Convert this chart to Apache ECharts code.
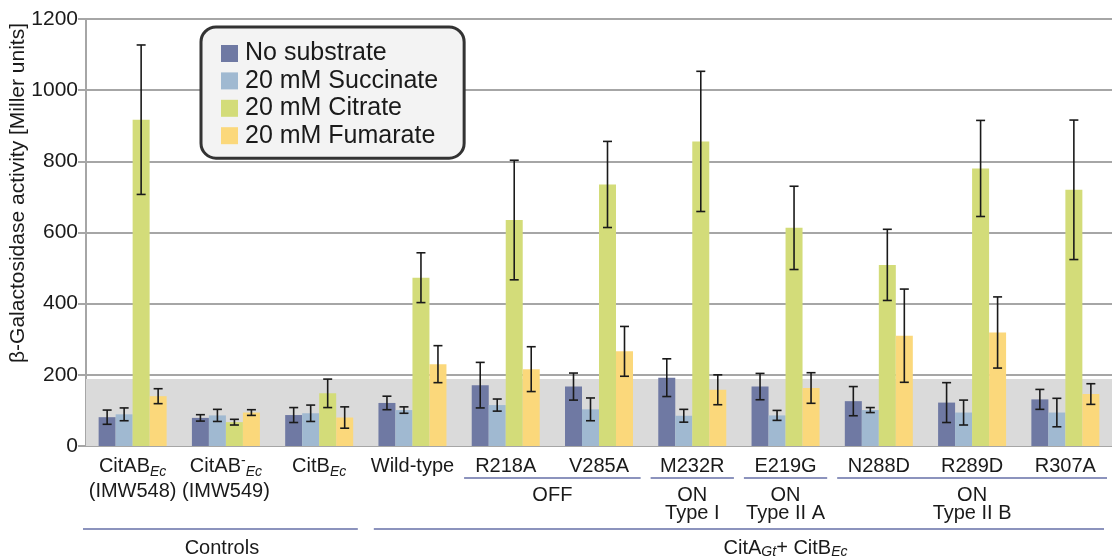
<!DOCTYPE html>
<html>
<head>
<meta charset="utf-8">
<title>β-Galactosidase activity</title>
<script src="https://cdn.jsdelivr.net/npm/echarts@6/dist/echarts.min.js"></script>
<style>
  html, body { margin: 0; padding: 0; background: #ffffff; }
  #chart { width: 1112px; height: 558px; }
</style>
</head>
<body>
<div id="chart"></div>
<script>
// Strains / mutants on the x axis ("_xx" = italic subscript, "^x" = superscript)
const categories = [
  'CitAB_Ec\n(IMW548)', 'CitAB^-_Ec\n(IMW549)', 'CitB_Ec',
  'Wild-type', 'R218A', 'V285A', 'M232R', 'E219G', 'N288D', 'R289D', 'R307A'
];

const seriesNames = ['No substrate', '20 mM Succinate', '20 mM Citrate', '20 mM Fumarate'];

// Mean activity [Miller units]
const noSubstrate = [81, 79, 87, 121, 171, 167, 192, 167, 126, 122, 131];
const succinate   = [89, 86, 92, 101, 115, 103, 85, 86, 101, 94, 94];
const citrate     = [917, 67, 148, 473, 635, 735, 856, 613, 509, 780, 720];
const fumarate    = [140, 94, 80, 230, 216, 266, 158, 163, 310, 319, 146];

// Standard deviations
const noSubstrateSd = [20, 9, 21, 19, 64, 38, 53, 37, 41, 56, 28];
const succinateSd   = [18, 17, 23, 9, 17, 32, 18, 14, 7, 35, 40];
const citrateSd     = [210, 8, 40, 70, 168, 121, 197, 117, 100, 135, 196];
const fumarateSd    = [21, 8, 30, 52, 63, 70, 42, 43, 131, 100, 29];

// Background level band (Miller units)
const bandLevel = 188;

const yTicks = [0, 200, 400, 600, 800, 1000, 1200];

// Bracketed groupings below the axis
const subGroups = [
  { label: 'OFF', from: 'R218A', to: 'V285A' },
  { label: 'ON\nType I', from: 'M232R', to: 'M232R' },
  { label: 'ON\nType II A', from: 'E219G', to: 'E219G' },
  { label: 'ON\nType II B', from: 'N288D', to: 'R307A' }
];
const mainGroups = [
  { label: 'Controls', from: 0, to: 2, anchor: 1 },
  { label: 'CitA{sub|Gt}+ CitB{sub|Ec}', from: 3, to: 10, anchor: 7 }
];

const valueSets = [noSubstrate, succinate, citrate, fumarate];
const sdSets = [noSubstrateSd, succinateSd, citrateSd, fumarateSd];
const colors = ['#6f79a3', '#a0b9d1', '#d3dc79', '#fbd87b'];

const FONT = "'Liberation Sans', Arial, sans-serif";
const TEXT = '#1a1a1a';
const GRID_COLOR = '#a6a6a6';
const BAR_W = 17;

function toRich(s) {
  return s.replace(/\^(\S)/g, '{sup|$1}').replace(/_(\w+)/g, '{sub|$1}');
}

const richStyles = {
  sub: { fontSize: 14, fontStyle: 'italic', fontFamily: FONT, color: TEXT, verticalAlign: 'bottom', lineHeight: 13 },
  sup: { fontSize: 14, fontFamily: FONT, color: TEXT, verticalAlign: 'top', lineHeight: 14 }
};

const chart = echarts.init(document.getElementById('chart'), null, { renderer: 'canvas' });

const barSeries = seriesNames.map((name, j) => ({
  name: name,
  type: 'bar',
  data: valueSets[j],
  barWidth: BAR_W,
  barGap: '0%',
  itemStyle: { color: colors[j] },
  z: 2
}));

const errSeries = seriesNames.map((name, j) => ({
  type: 'custom',
  z: 4,
  silent: true,
  data: valueSets[j].map((v, i) => [i, v, sdSets[j][i]]),
  encode: { x: 0, y: 1 },
  renderItem: function (params, api) {
    const i = api.value(0), v = api.value(1), sd = api.value(2);
    const off = (j - 1.5) * BAR_W;
    const top = api.coord([i, v + sd]);
    const bot = api.coord([i, v - sd]);
    const x = top[0] + off;
    const cap = 4.5;
    const st = { stroke: '#1a1a1a', lineWidth: 1.6 };
    return {
      type: 'group',
      children: [
        { type: 'line', shape: { x1: x, y1: top[1], x2: x, y2: bot[1] }, style: st },
        { type: 'line', shape: { x1: x - cap, y1: top[1], x2: x + cap, y2: top[1] }, style: st },
        { type: 'line', shape: { x1: x - cap, y1: bot[1], x2: x + cap, y2: bot[1] }, style: st }
      ]
    };
  }
}));

const bandSeries = {
  type: 'line',
  data: [],
  silent: true,
  z: -1,
  markArea: {
    silent: true,
    itemStyle: { color: '#dadada' },
    data: [[{ yAxis: 0 }, { yAxis: bandLevel }]]
  }
};

chart.setOption({
  animation: false,
  backgroundColor: '#ffffff',
  textStyle: { fontFamily: FONT },
  grid: { left: 86, top: 19, width: 1030, height: 427, containLabel: false },
  legend: {
    orient: 'vertical',
    left: 201,
    top: 27,
    data: seriesNames,
    icon: 'rect',
    itemWidth: 17,
    itemHeight: 17,
    itemGap: 2.4,
    padding: [14, 26, 10, 20],
    backgroundColor: '#f3f3f3',
    borderColor: '#333333',
    borderWidth: 3,
    borderRadius: 15,
    textStyle: { fontSize: 25, lineHeight: 25, color: TEXT, fontFamily: FONT, padding: [0, 0, 0, 2] }
  },
  xAxis: {
    type: 'category',
    data: categories,
    axisLine: { lineStyle: { color: GRID_COLOR, width: 2 } },
    axisTick: { show: false },
    axisLabel: {
      interval: 0,
      margin: 8,
      fontSize: 20,
      lineHeight: 25,
      color: TEXT,
      fontFamily: FONT,
      formatter: v => toRich(v),
      rich: richStyles
    }
  },
  yAxis: {
    type: 'value',
    min: yTicks[0],
    max: yTicks[yTicks.length - 1],
    interval: yTicks[1] - yTicks[0],
    axisLine: { show: true, lineStyle: { color: GRID_COLOR, width: 2 } },
    axisTick: { show: true, length: 8, lineStyle: { color: GRID_COLOR, width: 2 } },
    splitLine: { lineStyle: { color: GRID_COLOR, width: 2 } },
    axisLabel: { margin: 8, fontSize: 21, color: TEXT, fontFamily: FONT, formatter: v => String(v) }
  },
  series: [bandSeries].concat(barSeries, errSeries)
});

// Group brackets and captions under the category axis, placed from the axis scale
function catX(c) { return chart.convertToPixel({ xAxisIndex: 0 }, c); }
const catW = catX(1) - catX(0);
const lineColor = '#8c93bd';
const graphics = [];

graphics.push({
  type: 'text',
  x: 18, y: 193,
  rotation: Math.PI / 2,
  style: {
    text: 'β-Galactosidase activity [Miller units]',
    fontSize: 21, fontFamily: FONT, fill: TEXT,
    align: 'center', verticalAlign: 'middle'
  }
});

subGroups.forEach(g => {
  const i0 = categories.indexOf(g.from), i1 = categories.indexOf(g.to);
  const xl = catX(i0) - catW / 2 + 5;
  const xr = catX(i1) + catW / 2 - 5;
  graphics.push({ type: 'line', shape: { x1: xl, y1: 478, x2: Math.min(xr, 1107), y2: 478 }, style: { stroke: lineColor, lineWidth: 2 } });
  graphics.push({
    type: 'text',
    x: (catX(i0) + catX(i1)) / 2, y: 486,
    style: { text: g.label, fontSize: 20, lineHeight: 18, fontFamily: FONT, fill: TEXT, align: 'center', verticalAlign: 'top' }
  });
});

mainGroups.forEach(g => {
  const xl = catX(g.from) - catW / 2 - (g.from === 0 ? 3 : -8);
  const xr = catX(g.to) + catW / 2 - 8;
  graphics.push({ type: 'line', shape: { x1: xl, y1: 529, x2: Math.min(xr, 1107), y2: 529 }, style: { stroke: lineColor, lineWidth: 2 } });
  graphics.push({
    type: 'text',
    x: catX(g.anchor) - (g.from === 0 ? 4 : 0), y: 548,
    style: {
      text: g.label, fontSize: 20, lineHeight: 22, fontFamily: FONT, fill: TEXT,
      align: 'center', verticalAlign: 'middle',
      rich: {
        sub: { fontSize: 14, fontStyle: 'italic', fontFamily: FONT, fill: TEXT, verticalAlign: 'bottom', lineHeight: 12 }
      }
    }
  });
});

chart.setOption({ graphic: graphics });
</script>
</body>
</html>
